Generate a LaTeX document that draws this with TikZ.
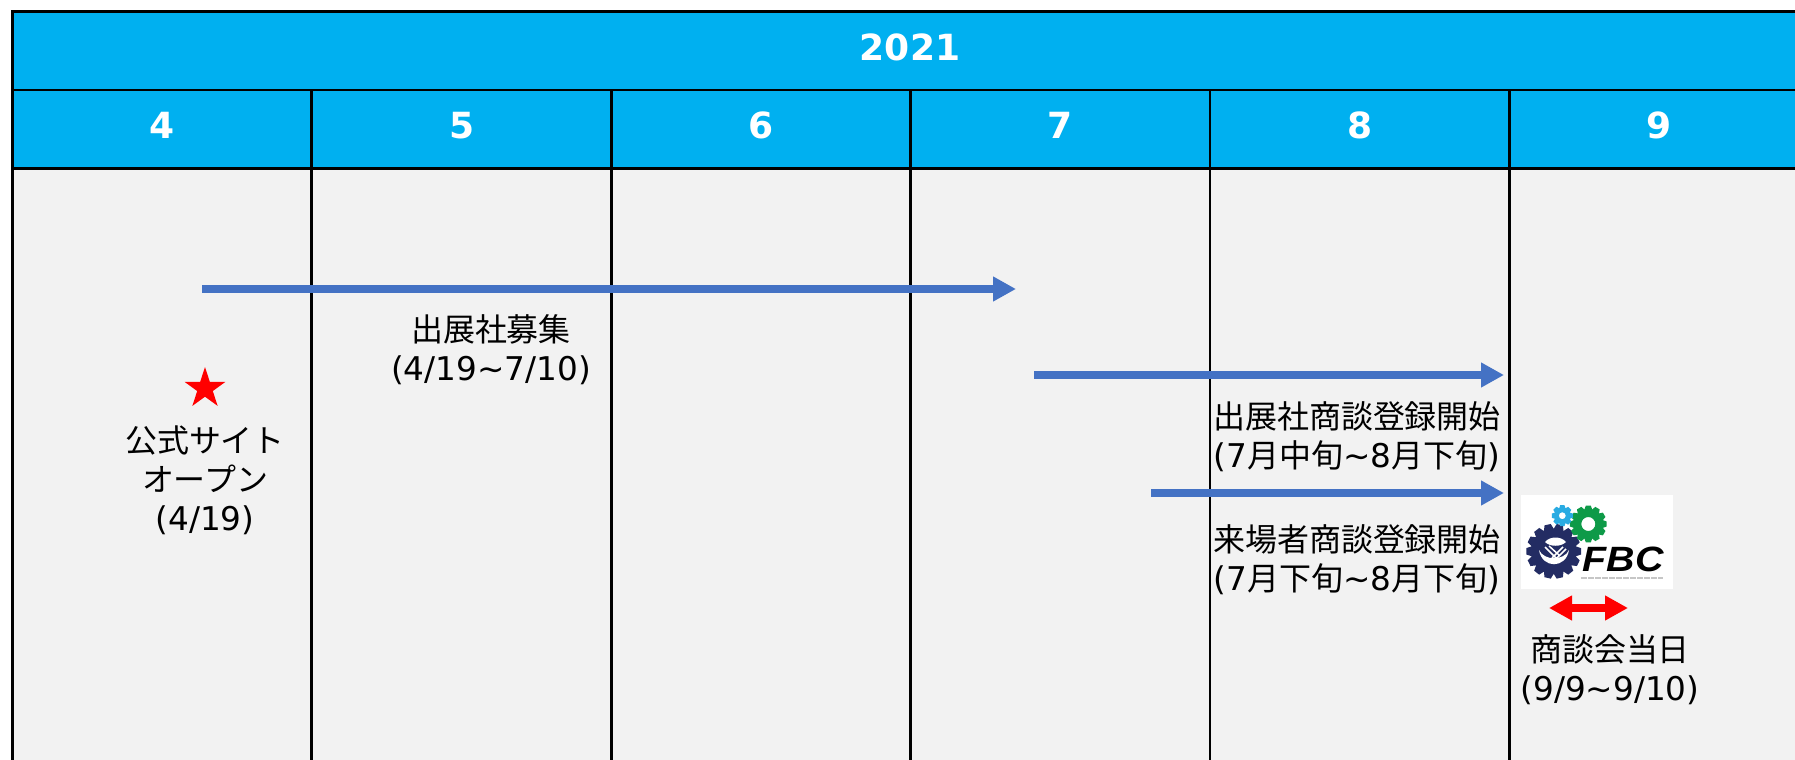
\documentclass[tikz,border=0pt]{standalone}
\usepackage{fontspec}
\usepackage{xcolor}
\setmainfont{DejaVu Sans}
\newfontfamily\jpfont{Noto Sans CJK JP}
\newfontfamily\logofont{Liberation Sans}
\newcommand{\jp}[1]{{\fontsize{18.2}{22.1}\selectfont\jpfont #1}}
\usetikzlibrary{shapes.geometric, arrows.meta, positioning}
\definecolor{headblue}{HTML}{00B0F0}
\definecolor{cellgray}{HTML}{F2F2F2}
\definecolor{barblue}{HTML}{4472C4}
\definecolor{gearnavy}{HTML}{232C63}
\definecolor{gearsky}{HTML}{29ABE2}
\definecolor{geargreen}{HTML}{0E9A48}
% x, y, teeth, outer, root, hole, colour
\newcommand{\cogwheel}[7]{%
  \fill[#7, even odd rule]
    ({#1+#5*cos(0.5*360/#3)},{#2+#5*sin(0.5*360/#3)})
    \foreach \t in {1,...,#3} {
      -- ({#1+#4*cos((\t-0.26)*360/#3)},{#2+#4*sin((\t-0.26)*360/#3)})
      -- ({#1+#4*cos((\t+0.26)*360/#3)},{#2+#4*sin((\t+0.26)*360/#3)})
      -- ({#1+#5*cos((\t+0.5)*360/#3)},{#2+#5*sin((\t+0.5)*360/#3)})
    } -- cycle (#1,#2) circle[radius=#6];
}
\begin{document}
\begin{tikzpicture}[
    x=0.02cm, y=-0.02cm,
    titlecell/.style={rectangle, draw=black, line width=0.055cm, outer sep=0pt, fill=headblue, text=white, font=\fontsize{20.5}{24}\selectfont\bfseries, anchor=north west, inner sep=0pt},
    bodycell/.style={rectangle, draw=black, line width=0.055cm, outer sep=0pt, fill=cellgray, anchor=north west, inner sep=0pt, minimum width=5.988cm, minimum height=12cm},
    note/.style={align=center, inner sep=0pt, font=\fontsize{18.6}{22.1}\selectfont},
    bar/.style={-{Triangle[length=0.46cm, width=0.47cm]}, barblue, line width=0.165cm},
    redbar/.style={{Triangle[length=0.46cm, width=0.47cm]}-{Triangle[length=0.46cm, width=0.47cm]}, red, line width=0.165cm}
]
    \useasboundingbox (0,0) rectangle (1795,760);
    \clip (0,0) rectangle (1795,760);

    % Header
    \node[titlecell, minimum width=35.9cm, minimum height=1.58cm] (year) at (12.5,11.5) {};
    \node[text=white, font=\fontsize{20.5}{24}\selectfont\bfseries, inner sep=0pt] (yearlabel) at (910,47) {2021};
    \foreach \m [count=\i from 0] in {4,5,6,7,8,9} {
        \node[titlecell, minimum width=5.988cm, minimum height=1.57cm, text depth=0.16cm] (month\m) at (12.5+299.4*\i,90) {\m};
        \node[bodycell] (cell\m) at (12.5+299.4*\i,168.5) {};
    }

    % Recruiting
    \coordinate (recruitstart) at (202,289);
    \coordinate (recruitend) at (1016,289);
    \draw[bar] (recruitstart) -- (recruitend);
    \node[note] (recruit) at (491,350) {\jp{出展社募集}\\(4/19\textasciitilde7/10)};

    % Site opening
    \node[star, star points=5, star point ratio=2.618, fill=red, inner sep=0pt, minimum size=0.86cm] (openstar) at (205,388.5) {};
    \node[note] (opening) at (205,480.5) {\jp{公式サイト}\\\jp{オープン}\\(4/19)};

    % Meeting registration
    \coordinate (exhibstart) at (1034,375);
    \coordinate (exhibend) at (1504,375);
    \draw[bar] (exhibstart) -- (exhibend);
    \node[note] (exhib) at (1357,437) {\jp{出展社商談登録開始}\\(7\jp{月中旬}\textasciitilde8\jp{月下旬})};
    \coordinate (visitstart) at (1151,493);
    \coordinate (visitend) at (1504,493);
    \draw[bar] (visitstart) -- (visitend);
    \node[note] (visit) at (1357,559.5) {\jp{来場者商談登録開始}\\(7\jp{月下旬}\textasciitilde8\jp{月下旬})};

    % Logo
    \node[rectangle, fill=white, minimum width=3.04cm, minimum height=1.88cm, inner sep=0pt] (logo) at (1597,542) {};
    \cogwheel{1553.7}{551.3}{14}{27.5}{22.5}{0}{gearnavy}
    \cogwheel{1588.3}{524}{12}{18.5}{15}{7}{geargreen}
    \cogwheel{1562.3}{515.7}{8}{10.7}{8}{3.5}{gearsky}
    \fill[white] (1545,542) .. controls (1550,536) and (1561,536) .. (1566,542) .. controls (1561,547) and (1550,547) .. (1545,542) -- cycle;
    \fill[white] (1539,550) .. controls (1542,569) and (1566,569) .. (1569,550) .. controls (1564,561) and (1544,561) .. (1539,550) -- cycle;
    \draw[white, line width=0.03cm] (1545,547) -- (1556,558) (1549,546) -- (1560,556) (1563,547) -- (1552,558) (1566,549) -- (1556,559);
    \node[font=\fontsize{20}{20}\selectfont\logofont\bfseries\itshape, xscale=1.12, inner sep=0pt] (fbc) at (1623,559) {FBC};
    \draw[gray!45, line width=0.03cm, dash pattern=on 0.12cm off 0.02cm] (1581,578) -- (1663,578);

    % Event day
    \coordinate (eventstart) at (1549,608);
    \coordinate (eventend) at (1628,608);
    \draw[redbar] (eventstart) -- (eventend);
    \node[note] (event) at (1610,670) {\jp{商談会当日}\\(9/9\textasciitilde9/10)};
\end{tikzpicture}
\end{document}
